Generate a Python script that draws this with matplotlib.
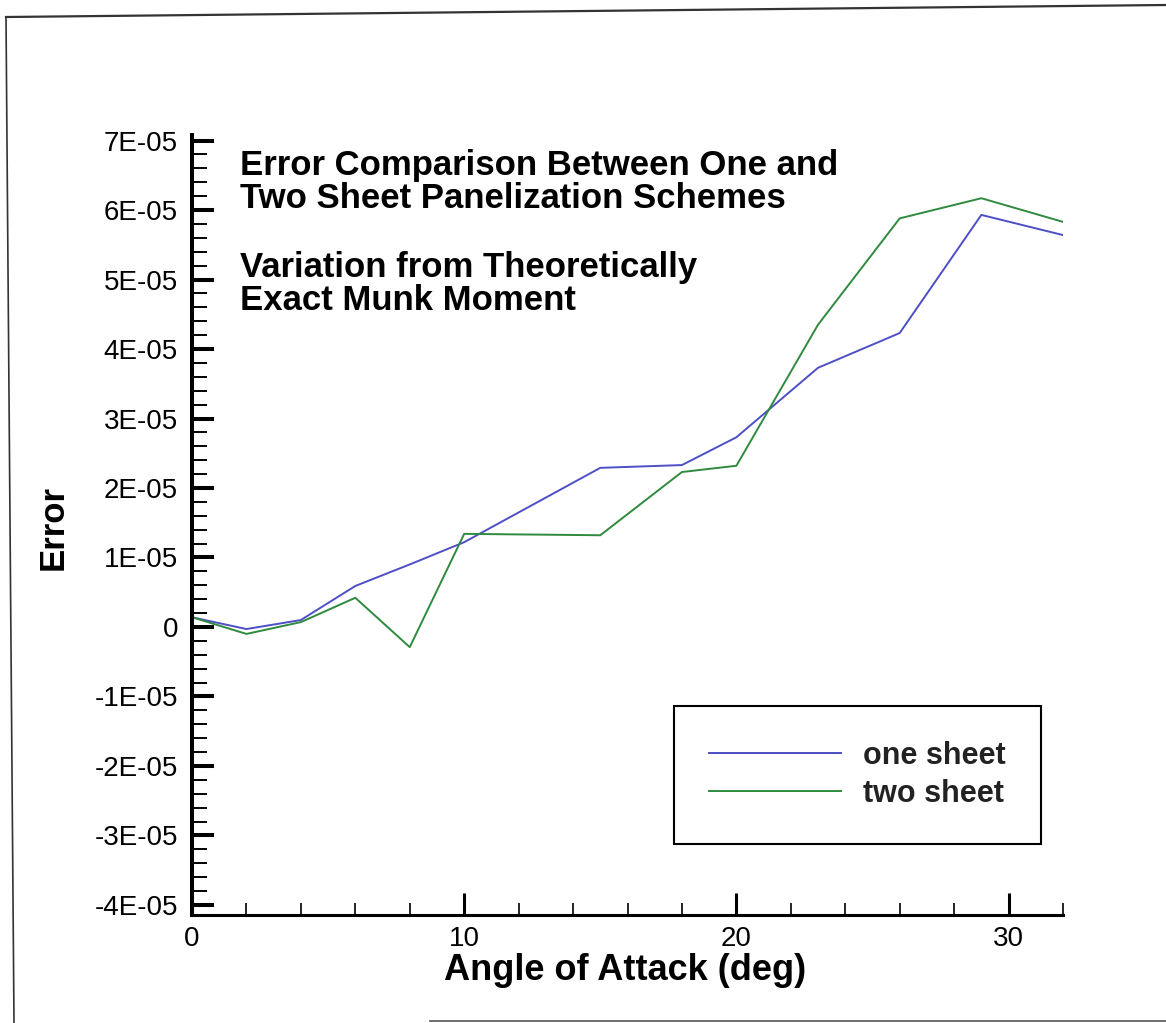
import matplotlib
matplotlib.use("Agg")
import matplotlib.pyplot as plt
from matplotlib.lines import Line2D
from matplotlib.ticker import FixedLocator, MultipleLocator, FuncFormatter

# data
angle = [0, 2, 4, 6, 8, 10, 15, 18, 20, 23, 26, 29, 32]
one_sheet = [1.4e-6, -0.3e-6, 1.0e-6, 5.9e-6, 9.0e-6, 1.22e-5, 2.29e-5,
             2.33e-5, 2.73e-5, 3.73e-5, 4.23e-5, 5.93e-5, 5.64e-5]
two_sheet = [1.4e-6, -1.0e-6, 0.7e-6, 4.2e-6, -2.9e-6, 1.34e-5, 1.32e-5,
             2.23e-5, 2.32e-5, 4.35e-5, 5.88e-5, 6.17e-5, 5.83e-5]
series_labels = ["one sheet", "two sheet"]
y_ticks = [-4e-5, -3e-5, -2e-5, -1e-5, 0, 1e-5, 2e-5, 3e-5, 4e-5, 5e-5, 6e-5, 7e-5]
title_lines = ["Error Comparison Between One and",
               "Two Sheet Panelization Schemes",
               "Variation from Theoretically",
               "Exact Munk Moment"]

plt.rcParams["font.family"] = ["Liberation Sans", "DejaVu Sans"]

W, H = 1166, 1023
fig = plt.figure(figsize=(W / 100, H / 100), dpi=100)


def fx(px):
    return px / W


def fy(py):
    return 1 - py / H


# axes box in pixels: x 192..1063, y 135..915
ax = fig.add_axes([fx(192), fy(915), fx(1063) - fx(192), fy(135) - fy(915)])

ax.plot(angle, one_sheet, color="#4e4ec6", lw=1.4, label=series_labels[0])
ax.plot(angle, two_sheet, color="#2f8a3f", lw=1.4, label=series_labels[1])

ax.set_xlim(0, 32)
ax.set_ylim(-4.145e-5, 7.08e-5)

ax.spines["top"].set_visible(False)
ax.spines["right"].set_visible(False)
ax.spines["left"].set_linewidth(2.9)
ax.spines["bottom"].set_linewidth(2.2)

ax.xaxis.set_major_locator(FixedLocator([0, 10, 20, 30]))
ax.xaxis.set_minor_locator(MultipleLocator(2))
ax.yaxis.set_major_locator(FixedLocator(y_ticks))
ax.yaxis.set_minor_locator(MultipleLocator(2e-6))


def sci_fmt(v, pos):
    if abs(v) < 1e-12:
        return "0"
    return f"{v:.0E}"


ax.yaxis.set_major_formatter(FuncFormatter(sci_fmt))

ax.tick_params(axis="y", which="major", direction="in", length=16, width=2.9,
               labelsize=20, pad=10)
ax.tick_params(axis="y", which="minor", direction="in", length=10.5, width=1.4)
ax.tick_params(axis="x", which="major", direction="in", length=16, width=2.2,
               labelsize=20, pad=8)
ax.tick_params(axis="x", which="minor", direction="in", length=8.5, width=1.2)

ax.set_xlabel("Angle of Attack (deg)", fontsize=26, fontweight="bold")
ax.set_ylabel("Error", fontsize=25, fontweight="bold")
ax.xaxis.set_label_coords((625 - 192) / (1063 - 192), -(970 - 915) / (915 - 135))
ax.yaxis.set_label_coords(-(192 - 53) / (1063 - 192), (915 - 527) / (915 - 135))
ax.yaxis.label.set_verticalalignment("center")
ax.xaxis.label.set_verticalalignment("center")

baselines = [175, 208, 277, 310]
for line, base in zip(title_lines, baselines):
    fig.text(fx(240), fy(base), line, fontsize=25, fontweight="bold",
             ha="left", va="baseline")

leg = ax.legend(loc="upper left", bbox_to_anchor=(fx(674), fy(706)),
                bbox_transform=fig.transFigure, borderaxespad=0,
                prop={"weight": "bold", "size": 22},
                handlelength=4.3, handletextpad=0.75, borderpad=1.15,
                labelspacing=0.25, fancybox=False, shadow=False,
                framealpha=1, edgecolor="black")
leg.get_frame().set_linewidth(1.5)
for t in leg.get_texts():
    t.set_color("#222222")

# scanned page frame (slightly rotated scan)
fig.add_artist(Line2D([fx(6), fx(14)], [fy(17), fy(1023)], color="#333333",
                      lw=1.2, transform=fig.transFigure))
fig.add_artist(Line2D([fx(6), fx(1166)], [fy(17), fy(5)], color="#333333",
                      lw=1.6, transform=fig.transFigure))
fig.add_artist(Line2D([fx(430), fx(1166)], [fy(1021), fy(1021)], color="#555555",
                      lw=1.2, transform=fig.transFigure))

fig.savefig("out.png", dpi=100)
